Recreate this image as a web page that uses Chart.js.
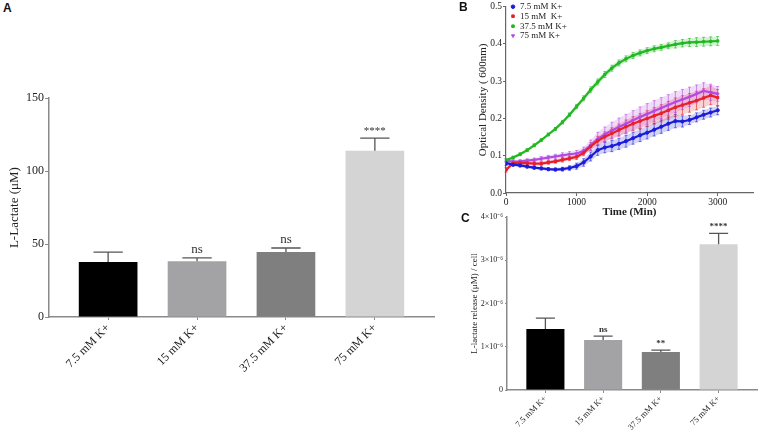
<!DOCTYPE html>
<html>
<head>
<meta charset="utf-8">
<script src="https://cdn.jsdelivr.net/npm/chart.js@4.4.0/dist/chart.umd.min.js"></script>
<style>
body { margin: 0; background: #fff; width: 758px; height: 432px; position: relative; overflow: hidden; }
.panel { position: absolute; }
.tag { position: absolute; font: bold 12px "Liberation Sans", Arial, sans-serif; color: #111; }
</style>
</head>
<body>
<div class="panel" style="left:0;top:90px;width:440px;height:342px"><canvas id="chartA"></canvas></div>
<div class="panel" style="left:470px;top:0;width:288px;height:225px"><canvas id="chartB"></canvas></div>
<div class="panel" style="left:462px;top:205px;width:296px;height:227px"><canvas id="chartC"></canvas></div>
<div class="tag" style="left:3px;top:1px">A</div>
<div class="tag" style="left:459px;top:0px">B</div>
<div class="tag" style="left:461px;top:211px">C</div>
<script>
// groups (same for A and C)
const groups = ['7.5 mM K+', '15 mM K+', '37.5 mM K+', '75 mM K+'];
const groupTicks = [0, 1, 2, 3];
const barColors = ['#000000', '#a3a3a5', '#7f7f7f', '#d4d4d4'];

// A: L-lactate
const lactateA = [37.7, 38.2, 44.5, 114];
const lactateErrA = [6.8, 2.3, 2.8, 8.6];
const marksA = ['', 'ns', 'ns', '****'];

// B: optical density over time
const timeB = [0, 100, 200, 300, 400, 500, 600, 700, 800, 900, 1000, 1100, 1200, 1300, 1400, 1500,
  1600, 1700, 1800, 1900, 2000, 2100, 2200, 2300, 2400, 2500, 2600, 2700, 2800, 2900, 3000];
const timeTicksB = [0, 1000, 2000, 3000];
const legendB = ['7.5 mM K+', '15 mM  K+', '37.5 mM K+', '75 mM K+'];
const od7 = [0.080, 0.076, 0.074, 0.071, 0.068, 0.066, 0.064, 0.063, 0.064, 0.067, 0.072, 0.082, 0.098, 0.115, 0.122, 0.126,
  0.132, 0.139, 0.147, 0.155, 0.162, 0.170, 0.178, 0.186, 0.193, 0.192, 0.196, 0.203, 0.210, 0.216, 0.222];
const od15 = [0.062, 0.080, 0.081, 0.080, 0.079, 0.079, 0.082, 0.085, 0.089, 0.093, 0.097, 0.108, 0.125, 0.140, 0.151, 0.160,
  0.169, 0.178, 0.186, 0.193, 0.200, 0.207, 0.214, 0.222, 0.230, 0.236, 0.242, 0.248, 0.255, 0.262, 0.256];
const od37 = [0.088, 0.095, 0.104, 0.115, 0.128, 0.142, 0.157, 0.172, 0.190, 0.210, 0.232, 0.254, 0.277, 0.298, 0.318, 0.335,
  0.349, 0.360, 0.369, 0.376, 0.382, 0.387, 0.391, 0.395, 0.399, 0.402, 0.404, 0.405, 0.406, 0.407, 0.408];
const od75 = [0.086, 0.084, 0.085, 0.087, 0.089, 0.092, 0.095, 0.098, 0.101, 0.104, 0.106, 0.113, 0.128, 0.145, 0.157, 0.168,
  0.177, 0.186, 0.195, 0.204, 0.212, 0.220, 0.228, 0.236, 0.244, 0.251, 0.258, 0.266, 0.274, 0.270, 0.266];
const err7 = [0.006, 0.004, 0.004, 0.004, 0.004, 0.004, 0.004, 0.004, 0.005, 0.006, 0.008, 0.010, 0.012, 0.014, 0.014, 0.015,
  0.015, 0.016, 0.016, 0.017, 0.017, 0.017, 0.018, 0.018, 0.018, 0.015, 0.012, 0.012, 0.012, 0.012, 0.012];
const err15 = [0.006, 0.005, 0.005, 0.005, 0.005, 0.005, 0.005, 0.005, 0.006, 0.006, 0.007, 0.008, 0.010, 0.012, 0.013, 0.015,
  0.016, 0.018, 0.019, 0.020, 0.021, 0.022, 0.023, 0.024, 0.025, 0.025, 0.025, 0.025, 0.025, 0.025, 0.022];
const err37 = [0.004, 0.004, 0.004, 0.004, 0.004, 0.004, 0.004, 0.004, 0.005, 0.005, 0.006, 0.007, 0.008, 0.008, 0.008, 0.008,
  0.008, 0.008, 0.008, 0.008, 0.008, 0.008, 0.008, 0.008, 0.010, 0.010, 0.011, 0.012, 0.012, 0.012, 0.012];
const err75 = [0.005, 0.005, 0.005, 0.005, 0.005, 0.006, 0.006, 0.006, 0.007, 0.007, 0.008, 0.010, 0.014, 0.018, 0.020, 0.022,
  0.024, 0.025, 0.026, 0.027, 0.028, 0.028, 0.028, 0.028, 0.028, 0.027, 0.026, 0.024, 0.022, 0.022, 0.020];

// C: L-lactate release per cell
const releaseC = [1.41e-6, 1.155e-6, 0.877e-6, 3.37e-6];
const releaseErrC = [0.25e-6, 0.09e-6, 0.045e-6, 0.25e-6];
const marksC = ['', 'ns', '**', '****'];
const ticksC = ['0', '1×10⁻⁶', '2×10⁻⁶', '3×10⁻⁶', '4×10⁻⁶'];

Chart.defaults.font.family = '"Liberation Serif", "Times New Roman", serif';
Chart.defaults.color = '#222';
Chart.defaults.animation = false;

const axisGray = '#8a8a8a';

// error bars + significance marks on bar charts
const barErrors = {
  id: 'barErrors',
  afterDatasetsDraw(chart, args, opts) {
    const ctx = chart.ctx;
    const yScale = chart.scales.y;
    const bars = chart.getDatasetMeta(0).data;
    const vals = chart.data.datasets[0].data;
    ctx.save();
    ctx.strokeStyle = opts.color;
    ctx.lineWidth = opts.lineWidth;
    ctx.fillStyle = opts.textColor;
    ctx.textAlign = 'center';
    ctx.textBaseline = 'bottom';
    bars.forEach((bar, i) => {
      const top = yScale.getPixelForValue(vals[i].y + opts.errors[i]);
      const half = bar.width / 4;
      ctx.beginPath();
      ctx.moveTo(bar.x, bar.y);
      ctx.lineTo(bar.x, top);
      ctx.moveTo(bar.x - half, top);
      ctx.lineTo(bar.x + half, top);
      ctx.stroke();
      const m = opts.marks[i];
      if (m) {
        ctx.font = m.startsWith('*') ? opts.starFont : opts.font;
        ctx.fillText(m, bar.x, top - opts.gap);
      }
    });
    ctx.restore();
  }
};

function barChart(id, values, errors, marks, opt) {
  return new Chart(document.getElementById(id), {
    type: 'bar',
    data: {
      datasets: [{
        data: values.map((v, i) => ({ x: groupTicks[i], y: v })),
        backgroundColor: barColors,
        borderWidth: 0,
        categoryPercentage: 1,
        barPercentage: 0.66
      }]
    },
    options: {
      responsive: true,
      maintainAspectRatio: false,
      layout: { padding: opt.padding },
      plugins: {
        legend: { display: false },
        tooltip: { enabled: false },
        barErrors: { errors: errors, marks: marks, color: '#555', lineWidth: 1.3, textColor: '#333',
          font: opt.markFont, starFont: opt.starFont, gap: 2 }
      },
      scales: {
        x: {
          type: 'linear', min: -0.665, max: 3.665, offset: false,
          afterFit(s) { s.height = opt.xHeight; },
          afterBuildTicks(s) { s.ticks = groupTicks.map((v) => ({ value: v })); },
          border: { color: axisGray, width: 1.5 },
          grid: { display: true, offset: false, drawOnChartArea: false, drawTicks: true, tickLength: 3, color: axisGray },
          ticks: {
            autoSkip: false, minRotation: 45, maxRotation: 45, padding: 1,
            font: { size: opt.xFont },
            callback: (v) => groups[v]
          }
        },
        y: {
          min: 0, max: opt.yMax,
          afterFit(s) { s.width = opt.yWidth; },
          border: { color: axisGray, width: 1.5 },
          grid: { display: true, drawOnChartArea: false, drawTicks: true, tickLength: opt.tickLen, color: axisGray },
          ticks: { stepSize: opt.step, padding: opt.tickPad, font: { size: opt.yFont }, callback: opt.yCallback },
          title: { display: true, text: opt.yTitle, font: { size: opt.titleFont }, padding: { top: opt.titlePad }, color: '#222' }
        }
      }
    },
    plugins: [barErrors]
  });
}

barChart('chartA', lactateA, lactateErrA, marksA, {
  padding: { top: 8, right: 6, left: 0, bottom: 0 },
  xHeight: 115, yWidth: 49, yMax: 150, step: 50, tickLen: 4, tickPad: 1,
  xFont: 12, yFont: 12, titleFont: 13, titlePad: 7, yTitle: 'L-Lactate (μM)',
  markFont: '13px "Liberation Serif", serif', starFont: '11px "Liberation Serif", serif',
  yCallback: (v) => v
});

barChart('chartC', releaseC, releaseErrC, marksC, {
  padding: { top: 12, right: 1, left: 0, bottom: 0 },
  xHeight: 42, yWidth: 45, yMax: 4e-6, step: 1e-6, tickLen: 2, tickPad: 2,
  xFont: 8.5, yFont: 8, titleFont: 9, titlePad: 7, yTitle: 'L-lactate release (μM) / cell',
  markFont: 'bold 9px "Liberation Serif", serif', starFont: 'bold 9px "Liberation Serif", serif',
  yCallback: (v, i) => ticksC[i]
});

// B: error bands, bars and in-plot legend
const odErrors = {
  id: 'odErrors',
  beforeDatasetsDraw(chart, args, opts) {
    const { ctx, scales: { x, y } } = chart;
    chart.data.datasets.forEach((ds, d) => {
      const err = opts.errors[d];
      ctx.save();
      ctx.fillStyle = ds.borderColor;
      ctx.globalAlpha = 0.2;
      ctx.beginPath();
      ds.data.forEach((p, i) => {
        const px = x.getPixelForValue(p.x), py = y.getPixelForValue(p.y + err[i]);
        if (i) ctx.lineTo(px, py); else ctx.moveTo(px, py);
      });
      for (let i = ds.data.length - 1; i >= 0; i--) {
        const p = ds.data[i];
        ctx.lineTo(x.getPixelForValue(p.x), y.getPixelForValue(p.y - err[i]));
      }
      ctx.closePath();
      ctx.fill();
      ctx.globalAlpha = 0.75;
      ctx.strokeStyle = ds.borderColor;
      ctx.lineWidth = 0.8;
      ctx.beginPath();
      ds.data.forEach((p, i) => {
        const px = x.getPixelForValue(p.x);
        const hi = y.getPixelForValue(p.y + err[i]), lo = y.getPixelForValue(p.y - err[i]);
        ctx.moveTo(px, hi); ctx.lineTo(px, lo);
        ctx.moveTo(px - 1.5, hi); ctx.lineTo(px + 1.5, hi);
        ctx.moveTo(px - 1.5, lo); ctx.lineTo(px + 1.5, lo);
      });
      ctx.stroke();
      ctx.restore();
    });
  }
};

const odLegend = {
  id: 'odLegend',
  afterDraw(chart, args, opts) {
    const { ctx, chartArea } = chart;
    ctx.save();
    ctx.font = '9px "Liberation Serif", serif';
    ctx.textBaseline = 'middle';
    chart.data.datasets.forEach((ds, d) => {
      const yy = chartArea.top + opts.rows[d];
      const xx = chartArea.left + 7;
      ctx.fillStyle = ds.borderColor;
      ctx.strokeStyle = ds.borderColor;
      Chart.helpers.drawPoint(ctx, { pointStyle: ds.pointStyle, radius: 1.8, borderWidth: 1, rotation: ds.pointRotation || 0 }, xx, yy);
      ctx.fillStyle = '#222';
      ctx.fillText(ds.label, xx + 7, yy);
    });
    ctx.restore();
  }
};

const seriesB = [od7, od15, od37, od75];
const colorsB = ['#1c1cd8', '#e8202a', '#22b822', '#b44be1'];
const stylesB = ['circle', 'rect', 'rect', 'triangle'];

new Chart(document.getElementById('chartB'), {
  type: 'line',
  data: {
    datasets: seriesB.map((s, d) => ({
      label: legendB[d],
      data: s.map((v, i) => ({ x: timeB[i], y: v })),
      borderColor: colorsB[d],
      backgroundColor: colorsB[d],
      borderWidth: 2.2,
      pointStyle: stylesB[d],
      pointRotation: d === 3 ? 180 : 0,
      pointRadius: 1.6,
      pointBorderWidth: 1,
      tension: 0
    }))
  },
  options: {
    responsive: true,
    maintainAspectRatio: false,
    layout: { padding: { top: 4, right: 1, left: 0, bottom: 0 } },
    plugins: {
      legend: { display: false },
      tooltip: { enabled: false },
      odErrors: { errors: [err7, err15, err37, err75] },
      odLegend: { rows: [0, 9.5, 19.5, 29] }
    },
    scales: {
      x: {
        type: 'linear', min: 0, max: 3500,
        afterFit(s) { s.height = 32; },
        afterBuildTicks(s) { s.ticks = timeTicksB.map((v) => ({ value: v })); },
        border: { color: '#666', width: 1.2 },
        grid: { display: true, drawOnChartArea: false, drawTicks: true, tickLength: 3, color: '#666' },
        ticks: { padding: 1, maxRotation: 0, font: { size: 9.5 }, callback: (v) => String(v) },
        title: { display: true, text: 'Time (Min)', font: { size: 11, weight: 'bold' }, padding: { top: 0, bottom: 6 }, color: '#222' }
      },
      y: {
        min: 0, max: 0.5,
        afterFit(s) { s.width = 36; },
        border: { color: '#666', width: 1.2 },
        grid: { display: true, drawOnChartArea: false, drawTicks: true, tickLength: 3, color: '#666' },
        ticks: { stepSize: 0.1, padding: 1, font: { size: 9.5 }, callback: (v) => v.toFixed(1) },
        title: { display: true, text: 'Optical Density ( 600nm)', font: { size: 11 }, padding: { top: 7 }, color: '#222' }
      }
    }
  },
  plugins: [odErrors, odLegend]
});
</script>
</body>
</html>
